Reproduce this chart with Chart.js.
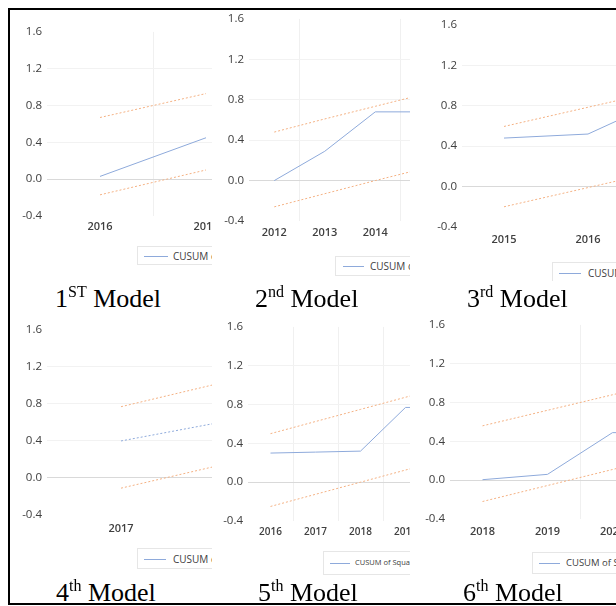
<!DOCTYPE html>
<html>
<head>
<meta charset="utf-8">
<script src="https://cdn.jsdelivr.net/npm/chart.js@4.4.1/dist/chart.umd.min.js"></script>
<style>
  body { margin: 0; background: #fff; width: 616px; height: 606px; overflow: hidden; position: relative; font-family: "Open Sans", sans-serif; }
  .frame { position: absolute; left: 8px; top: 8px; width: 640px; height: 593px; border-left: 2px solid #000; border-top: 2px solid #000; border-bottom: 2px solid #000; z-index: 5; }
  .clip { position: absolute; overflow: hidden; }
  .clip canvas { position: absolute; }
  .legend { position: absolute; border: 1px solid #e6e6e6; white-space: nowrap; color: #404040; }
  .legend .ln { position: absolute; height: 0; }
  .legend .tx { position: absolute; line-height: 1; }
  .cap { position: absolute; font-family: "Liberation Serif", "Times New Roman", serif; font-size: 26px; line-height: 26px; white-space: nowrap; color: #000; }
  .cap span { font-size: 16px; position: relative; top: -10px; }
</style>
</head>
<body>
<div class="frame"></div>
<div id="panels"></div>
<div class="cap" style="left:55px;top:286px">1<span>ST</span> Model</div>
<div class="cap" style="left:255px;top:286px">2<span>nd</span> Model</div>
<div class="cap" style="left:467px;top:286px">3<span>rd</span> Model</div>
<div class="cap" style="left:56px;top:580px">4<span>th</span> Model</div>
<div class="cap" style="left:258px;top:580px">5<span>th</span> Model</div>
<div class="cap" style="left:463px;top:580px">6<span>th</span> Model</div>
<script>
// values (the right part of every chart is cut off)
const yTicks = [-0.4, 0, 0.4, 0.8, 1.2, 1.6];

const m1Years = ["2016", "2017"];
const m1Cusum = [0.03, 0.45];
const m1Upper = [0.67, 0.93];
const m1Lower = [-0.17, 0.10];

const m2Years = ["2012", "2013", "2014", "2015"];
const m2Cusum = [0.0, 0.29, 0.68, 0.68];
const m2Upper = [0.48, 0.61, 0.735, 0.86];
const m2Lower = [-0.26, -0.13, 0.0, 0.125];

const m3Years = ["2015", "2016", "2017"];
const m3Cusum = [0.48, 0.52, 0.90];
const m3Upper = [0.595, 0.785, 0.975];
const m3Lower = [-0.20, -0.01, 0.18];

const m4Years = ["2017", "2018"];
const m4Cusum = [0.40, 0.70];
const m4Upper = [0.77, 1.15];
const m4Lower = [-0.11, 0.26];

const m5Years = ["2016", "2017", "2018", "2019", "2020"];
const m5Cusum = [0.30, 0.31, 0.32, 0.77, 0.77];
const m5Upper = [0.50, 0.625, 0.75, 0.875, 1.0];
const m5Lower = [-0.25, -0.125, 0.0, 0.125, 0.25];

const m6Years = ["2018", "2019", "2020", "2021"];
const m6Cusum = [0.005, 0.06, 0.49, 0.49];
const m6Upper = [0.56, 0.72, 0.88, 1.04];
const m6Lower = [-0.22, -0.055, 0.11, 0.275];

const cusumLabel = "CUSUM of Squares";
const boundLabel = "5% Significance";

// layout of each cropped chart, in page pixels
const panels = [
  { clip: [10, 9, 202, 272], left: 47, top: 30, bottom: 216, step: 106, xPad: 4, xSize: 11, vGrid: [1],
    years: m1Years, cusum: m1Cusum, upper: m1Upper, lower: m1Lower,
    leg: { x: 137, y: 246, h: 17, lx: 143, lw: 24, tx: 172, fs: 10 } },
  { clip: [212, 9, 198, 272], left: 249, top: 17, bottom: 221, step: 50.5, xPad: 5, xSize: 11, vGrid: [1, 3],
    years: m2Years, cusum: m2Cusum, upper: m2Upper, lower: m2Lower,
    leg: { x: 335, y: 256, h: 18, lx: 342, lw: 21, tx: 369, fs: 10 } },
  { clip: [410, 9, 206, 272], left: 462, top: 23, bottom: 227, step: 84, xPad: 6, xSize: 11, vGrid: [],
    years: m3Years, cusum: m3Cusum, upper: m3Upper, lower: m3Lower,
    leg: { x: 552, y: 262, h: 20, lx: 558, lw: 22, tx: 587, fs: 10 } },
  { clip: [10, 312, 202, 268], left: 47, top: 328, bottom: 515, step: 148, xPad: 7, xSize: 11, vGrid: [], dashed: true,
    years: m4Years, cusum: m4Cusum, upper: m4Upper, lower: m4Lower,
    leg: { x: 137, y: 548, h: 19, lx: 143, lw: 22, tx: 172, fs: 10 } },
  { clip: [212, 312, 198, 268], left: 248, top: 325, bottom: 521, step: 45, xPad: 5, xSize: 10, vGrid: [1, 2, 3],
    years: m5Years, cusum: m5Cusum, upper: m5Upper, lower: m5Lower,
    leg: { x: 323, y: 551, h: 22, lx: 329, lw: 20, tx: 354, fs: 7.5 } },
  { clip: [410, 312, 206, 268], left: 449.5, top: 323, bottom: 519, step: 65, xPad: 6, xSize: 11, vGrid: [2],
    years: m6Years, cusum: m6Cusum, upper: m6Upper, lower: m6Lower,
    leg: { x: 532, y: 552, h: 20, lx: 538, lw: 21, tx: 565, fs: 9.5 } }
];

const blue = "#8eaadb";
const orange = "#f4b183";
const yW = 40, padTop = 10, xH = 24;
const holder = document.getElementById("panels");

panels.forEach(function (p) {
  const clip = document.createElement("div");
  clip.className = "clip";
  clip.style.left = p.clip[0] + "px";
  clip.style.top = p.clip[1] + "px";
  clip.style.width = p.clip[2] + "px";
  clip.style.height = p.clip[3] + "px";
  holder.appendChild(clip);

  const cv = document.createElement("canvas");
  cv.width = yW + p.years.length * p.step;
  cv.height = padTop + (p.bottom - p.top) + xH;
  cv.style.left = (p.left - yW - p.clip[0]) + "px";
  cv.style.top = (p.top - padTop - p.clip[1]) + "px";
  clip.appendChild(cv);

  const datasets = [
    { label: cusumLabel, data: p.cusum, borderColor: blue, borderWidth: 1, borderDash: p.dashed ? [2, 2] : [] },
    { label: boundLabel, data: p.upper, borderColor: orange, borderWidth: 1, borderDash: [2, 2] },
    { label: boundLabel, data: p.lower, borderColor: orange, borderWidth: 1, borderDash: [2, 2] }
  ];

  new Chart(cv.getContext("2d"), {
    type: "line",
    data: { labels: p.years, datasets: datasets },
    options: {
      responsive: false,
      animation: false,
      elements: { point: { radius: 0 }, line: { tension: 0 } },
      layout: { padding: { top: padTop, left: 0, right: 0, bottom: 0 } },
      plugins: { legend: { display: false }, tooltip: { enabled: false } },
      scales: {
        x: {
          offset: true,
          grid: {
            offset: true,
            drawTicks: false,
            color: function (c) { return p.vGrid.includes(c.index) ? "#f0f0f0" : "transparent"; }
          },
          border: { display: false },
          ticks: { padding: p.xPad, color: "#404040", autoSkip: false, maxRotation: 0,
                   font: { family: "Open Sans", size: p.xSize, weight: "600" } },
          afterFit: function (s) { s.height = xH; }
        },
        y: {
          min: -0.4,
          max: 1.6,
          afterBuildTicks: function (s) { s.ticks = yTicks.map(function (v) { return { value: v }; }); },
          grid: {
            drawTicks: false,
            color: function (c) {
              const v = c.tick.value;
              if (Math.abs(v) < 1e-9) return "#d9d9d9";
              if (v > 1.5 || v < -0.3) return "transparent";
              return "#f2f2f2";
            }
          },
          border: { display: false },
          ticks: { padding: 5, color: "#404040", font: { family: "Open Sans", size: 11.5 },
                   callback: function (v) { return v.toFixed(1); } },
          afterFit: function (s) { s.width = yW; }
        }
      }
    }
  });

  // legend box, cut by the cell edge like the picture
  const L = p.leg;
  const lg = document.createElement("div");
  lg.className = "legend";
  lg.style.left = (L.x - p.clip[0]) + "px";
  lg.style.top = (L.y - p.clip[1]) + "px";
  lg.style.width = "280px";
  lg.style.height = L.h + "px";
  lg.style.fontSize = L.fs + "px";
  const mid = L.h / 2;
  lg.innerHTML =
    '<div class="ln" style="left:' + (L.lx - L.x) + 'px;top:' + mid + 'px;width:' + L.lw + 'px;border-top:1px solid ' + blue + '"></div>' +
    '<div class="tx" style="left:' + (L.tx - L.x) + 'px;top:' + (mid - L.fs / 2) + 'px">' + cusumLabel + '</div>' +
    '<div class="ln" style="left:' + (L.tx - L.x + L.fs * 8.5) + 'px;top:' + mid + 'px;width:' + L.lw + 'px;border-top:1px dashed ' + orange + '"></div>' +
    '<div class="tx" style="left:' + (L.tx - L.x + L.fs * 8.5 + L.lw + 5) + 'px;top:' + (mid - L.fs / 2) + 'px">' + boundLabel + '</div>';
  clip.appendChild(lg);
});
</script>
</body>
</html>
